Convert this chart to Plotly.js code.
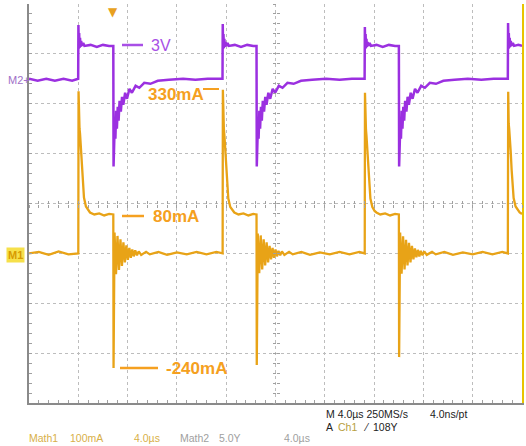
<!DOCTYPE html>
<html>
<head>
<meta charset="utf-8">
<script src="https://cdn.plot.ly/plotly-3.0.1.min.js"></script>
<style>html,body{margin:0;padding:0;background:#fff;}#chart{width:526px;height:446px;}</style>
</head>
<body>
<div id="chart"></div>
<script>
// ---- Data ----
// Math1: current (mA) vs time (µs), 100 mA/div, 4 µs/div
const m1Time = [0,0.8,1.6,2.4,3.2,3.99,4.00,4.02,4.06,4.10,4.14,4.22,4.30,4.38,4.46,4.62,4.80,4.95,5.3,5.7,6.1,6.5,6.84,
 6.86,6.94,7.06,7.18,7.30,7.42,7.54,7.66,7.78,7.90,8.02,8.14,8.26,8.38,8.50,8.62,8.76,8.90,9.10,9.5,9.8,10.5,11.2,12.0,12.8,13.6,14.4,15.2,15.70,
 15.71,15.73,15.77,15.81,15.85,15.93,16.01,16.09,16.17,16.33,16.51,16.66,17.0,17.4,17.8,18.2,18.46,
 18.48,18.56,18.68,18.80,18.92,19.04,19.16,19.28,19.40,19.52,19.64,19.76,19.88,20.00,20.12,20.24,20.38,20.52,20.72,21.1,21.4,22.1,22.8,23.6,24.4,25.2,26.0,26.8,27.23,
 27.24,27.26,27.30,27.34,27.38,27.46,27.54,27.62,27.70,27.86,28.04,28.19,28.5,28.9,29.3,29.7,30.01,
 30.03,30.11,30.23,30.35,30.47,30.59,30.71,30.83,30.95,31.07,31.19,31.31,31.43,31.55,31.67,31.79,31.93,32.07,32.27,32.7,33.0,33.7,34.4,35.2,36.0,36.8,37.6,38.4,38.85,
 38.86,38.88,38.92,38.96,39.00,39.08,39.16,39.24,39.32,39.48,39.66,39.81,40];
const m1Current = [0,3,-3,4,-2,1,0,325,260,250,240,208,168,132,112,94,86,82,78,80,76,79,78,
 -230,42,-42,35,-33,28,-25,22,-18,16,-13,11,-9,8,-6,6,-4,4,-3,3,-2,3,-3,2,-2,3,-2,3,0,
 0,328,262,250,238,206,166,130,110,93,86,82,78,80,76,79,78,
 -224,40,-40,36,-32,28,-24,22,-18,15,-12,11,-9,8,-6,5,-4,4,-3,3,-2,3,-3,2,-2,3,-2,3,0,
 0,322,258,248,236,205,166,130,110,93,85,82,78,80,76,79,78,
 -208,42,-41,34,-32,27,-24,21,-18,15,-12,10,-8,7,-6,5,-4,4,-3,3,-2,3,-3,2,-2,3,-2,3,0,
 0,324,260,250,238,206,167,131,111,94,86,82,79];

// Math2: voltage (V) vs time (µs), 5 V/div
const m2Time = [0,0.7,1.4,2.1,2.8,3.5,3.99,
 4.00,4.01,4.04,4.07,4.10,4.14,4.18,4.23,4.30,4.40,4.50,5.0,5.5,6.0,6.5,6.84,
 6.86,6.97,7.01,7.07,7.13,7.20,7.27,7.35,7.45,7.55,7.65,7.80,7.95,8.15,8.35,8.65,8.95,9.35,9.85,10.45,11.35,12.5,13.5,14.5,15.70,
 15.71,15.72,15.75,15.78,15.81,15.85,15.89,15.94,16.01,16.11,16.21,16.7,17.2,17.7,18.2,18.46,
 18.48,18.59,18.63,18.69,18.75,18.82,18.89,18.97,19.07,19.17,19.27,19.42,19.57,19.77,19.97,20.27,20.57,20.97,21.47,22.07,22.97,24.1,25.2,26.2,27.23,
 27.24,27.25,27.28,27.31,27.34,27.38,27.42,27.47,27.54,27.64,27.74,28.2,28.7,29.2,29.7,30.01,
 30.03,30.14,30.18,30.24,30.30,30.37,30.44,30.52,30.62,30.72,30.82,30.97,31.12,31.32,31.52,31.82,32.12,32.52,33.02,33.62,34.52,35.6,36.7,37.7,38.85,
 38.86,38.87,38.90,38.93,38.96,39.00,39.04,39.09,39.16,39.26,39.36,39.7,40];
const m2Voltage = [0,-0.2,0,-0.2,0,-0.2,0,
 0,5.4,3.0,4.6,3.1,4.1,3.2,3.8,3.3,3.6,3.3,3.4,3.2,3.4,3.3,3.3,
 -8.8,-3.9,-6.0,-3.2,-5.0,-2.8,-4.2,-2.2,-3.3,-1.8,-2.6,-1.4,-2.0,-1.0,-1.4,-0.7,-0.9,-0.4,-0.5,-0.2,-0.1,0,-0.1,0,0,
 0,5.5,3.0,4.5,3.1,4.0,3.2,3.7,3.3,3.6,3.3,3.4,3.2,3.4,3.3,3.3,
 -8.8,-3.9,-6.0,-3.2,-5.0,-2.8,-4.2,-2.2,-3.3,-1.8,-2.6,-1.4,-2.0,-1.0,-1.4,-0.7,-0.9,-0.4,-0.5,-0.2,-0.1,0,-0.1,0,0,
 0,5.2,3.0,4.5,3.1,4.0,3.2,3.7,3.3,3.6,3.3,3.4,3.2,3.4,3.3,3.3,
 -8.8,-3.9,-6.0,-3.2,-5.0,-2.8,-4.2,-2.2,-3.3,-1.8,-2.6,-1.4,-2.0,-1.0,-1.4,-0.7,-0.9,-0.4,-0.5,-0.2,-0.1,0,-0.1,0,0,
 0,5.6,3.0,4.6,3.1,4.1,3.2,3.8,3.3,3.6,3.3,3.4,3.3];

const triggerTime = 6.8;            // µs
const timeRange = [0, 40];          // 10 div x 4 µs
const currentRange = [-300, 500];   // 8 div x 100 mA, M1 offset -1 div
const voltageRange = [-32.5, 7.5];  // 8 div x 5 V, M2 offset +2.5 div

const labels = {v: '3V', iPeak: '330mA', iFlat: '80mA', iNeg: '-240mA'};

// ---- Layout helpers (pixel -> paper) ----
const L = 29, R = 522, T = 4, B = 403;
const px = x => (x - L) / (R - L);
const py = y => (B - y) / (B - T);

const PURPLE = '#9b30e0';
const ORANGE = '#e8a317';
const LABEL_OR = '#f5a020';
const FONT = 'Liberation Sans, Arial, sans-serif';

const traces = [
  {x: m1Time, y: m1Current, type: 'scatter', mode: 'lines', xaxis: 'x', yaxis: 'y',
   line: {color: ORANGE, width: 2.3}, hoverinfo: 'skip'},
  {x: m2Time, y: m2Voltage, type: 'scatter', mode: 'lines', xaxis: 'x', yaxis: 'y2',
   line: {color: PURPLE, width: 2.5}, hoverinfo: 'skip'}
];

const gridAxis = {
  showgrid: true, gridcolor: '#bdbdbd', griddash: 'dot', gridwidth: 1,
  zeroline: false, showticklabels: false,
  showline: true, linecolor: '#8a8a8a', linewidth: 2,
  ticks: 'inside', ticklen: 3, tickcolor: '#a0a0a0'
};

const shapes = [];
const annotations = [];
function hline(x0, x1, y, color, w) {
  shapes.push({type: 'line', xref: 'paper', yref: 'paper', x0: px(x0), x1: px(x1), y0: py(y), y1: py(y),
    line: {color: color, width: w}});
}
function txt(text, x, y, color, size, bold, extra) {
  annotations.push(Object.assign({text: bold ? '<b>' + text + '</b>' : text, xref: 'paper', yref: 'paper',
    x: px(x), y: py(y), xanchor: 'left', yanchor: 'middle', showarrow: false,
    font: {family: FONT, size: size, color: color}}, extra || {}));
}

// waveform annotations
hline(122, 143, 45, '#a84fe6', 2.5); txt(labels.v, 149, 45, '#a84fe6', 16, false);
txt(labels.iPeak, 146, 94, LABEL_OR, 17, true); hline(203, 219, 89, LABEL_OR, 2);
hline(122, 144, 216, LABEL_OR, 2.5); txt(labels.iFlat, 151, 216, LABEL_OR, 17, true);
hline(120, 158, 368, LABEL_OR, 2.5); txt(labels.iNeg, 164, 368, LABEL_OR, 17, true);

// channel markers
txt('M2+', 32, 80, '#a070c8', 11, false, {xanchor: 'right'});
txt('M1', 6, 255, '#d89a00', 11, true, {bgcolor: '#f6e04a', borderpad: 1});

// trigger marker
annotations.push({text: '▼', xref: 'x', yref: 'paper', x: triggerTime, y: py(3), xanchor: 'center', yanchor: 'top',
  showarrow: false, font: {family: 'DejaVu Sans', size: 12, color: '#e8a020'}});

// bottom readouts
const MATHC = '#d8b048', GRAY = '#a0a0a0', DARK = '#222';
txt('Math1', 27, 438, MATHC, 10.5);
txt('100mA', 68, 438, MATHC, 10.5);
txt('4.0µs', 132, 438, MATHC, 10.5);
txt('Math2', 178, 438, GRAY, 10.5);
txt('5.0Y', 217, 438, GRAY, 10.5);
txt('4.0µs', 282, 438, GRAY, 10.5);
txt('M 4.0µs 250MS/s', 324, 414, DARK, 10.5);
txt('4.0ns/pt', 428, 414, DARK, 10.5);
txt('A', 324, 427, DARK, 10.5);
txt('Ch1', 336, 427, '#b8a040', 10.5);
txt('⁄', 361, 427, DARK, 10.5);
txt('108Y', 371, 427, DARK, 10.5);

const layout = {
  width: 526, height: 446, autosize: false,
  margin: {l: L, r: 526 - R, t: T, b: 446 - B, pad: 0},
  paper_bgcolor: '#fff', plot_bgcolor: '#fff', showlegend: false,
  xaxis: Object.assign({}, gridAxis, {range: timeRange, dtick: 4, tick0: 0,
    minor: {dtick: 0.8, ticks: 'inside', ticklen: 3, tickcolor: '#a0a0a0', showgrid: false}}),
  yaxis: Object.assign({}, gridAxis, {range: currentRange, dtick: 100, tick0: 0,
    minor: {dtick: 20, ticks: 'inside', ticklen: 3, tickcolor: '#a0a0a0', showgrid: false}}),
  yaxis2: {overlaying: 'y', side: 'right', range: voltageRange, showgrid: false, zeroline: false,
    showticklabels: false, showline: true, linecolor: '#e8c400', linewidth: 2, ticks: ''},
  // centre crosshair tick marks
  xaxis2: {overlaying: 'x', anchor: 'free', position: 0.5, range: timeRange, showgrid: false, zeroline: false,
    showticklabels: false, showline: false, ticks: 'inside', dtick: 0.8, tick0: 0, ticklen: 3, tickcolor: '#a0a0a0'},
  xaxis3: {overlaying: 'x', anchor: 'free', position: 0.5, range: timeRange, showgrid: false, zeroline: false,
    showticklabels: false, showline: false, ticks: 'outside', dtick: 0.8, tick0: 0, ticklen: 3, tickcolor: '#a0a0a0'},
  yaxis3: {overlaying: 'y', anchor: 'free', position: 0.5, range: currentRange, showgrid: false, zeroline: false,
    showticklabels: false, showline: false, ticks: 'inside', dtick: 20, tick0: 0, ticklen: 3, tickcolor: '#a0a0a0'},
  yaxis4: {overlaying: 'y', anchor: 'free', position: 0.5, range: currentRange, showgrid: false, zeroline: false,
    showticklabels: false, showline: false, ticks: 'outside', dtick: 20, tick0: 0, ticklen: 3, tickcolor: '#a0a0a0'},
  shapes: shapes,
  annotations: annotations
};

// invisible helper traces so the overlay crosshair axes are drawn
traces.push({x: timeRange, y: currentRange, xaxis: 'x2', yaxis: 'y3', mode: 'none', type: 'scatter', hoverinfo: 'skip'});
traces.push({x: timeRange, y: currentRange, xaxis: 'x3', yaxis: 'y4', mode: 'none', type: 'scatter', hoverinfo: 'skip'});

Plotly.newPlot('chart', traces, layout, {displayModeBar: false, staticPlot: true});
</script>
</body>
</html>
